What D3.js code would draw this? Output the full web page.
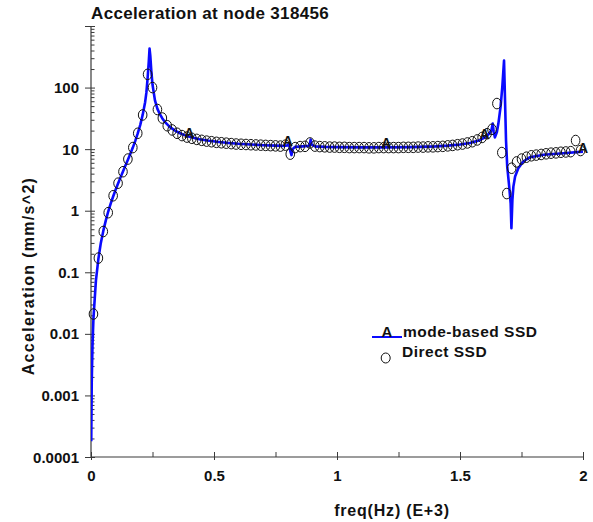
<!DOCTYPE html>
<html>
<head>
<meta charset="utf-8">
<script src="https://cdn.jsdelivr.net/npm/d3@7"></script>
<style>
  body { margin: 0; background: #fff; }
  text { font-family: "Liberation Sans", Arial, Helvetica, sans-serif; font-weight: bold; fill: #111; }
</style>
</head>
<body>
<svg id="chart" width="593" height="522"></svg>
<script>
// Frequency response at node 318456, frequency in kHz, acceleration in mm/s^2
const modeFreq = [0.001, 0.003, 0.006, 0.01, 0.02, 0.03, 0.04, 0.05, 0.06, 0.07, 0.08, 0.09, 0.10, 0.11, 0.12,
  0.13, 0.14, 0.15, 0.16, 0.17, 0.18, 0.19, 0.20, 0.21, 0.22, 0.225, 0.23, 0.235, 0.238, 0.241, 0.245,
  0.25, 0.26, 0.27, 0.28, 0.29, 0.30, 0.32, 0.34, 0.36, 0.38, 0.40, 0.44, 0.48, 0.52, 0.56, 0.60, 0.65,
  0.70, 0.75, 0.78, 0.80, 0.805, 0.81, 0.815, 0.82, 0.83, 0.86, 0.885, 0.89, 0.893, 0.897, 0.91, 0.95,
  1.00, 1.10, 1.20, 1.30, 1.40, 1.45, 1.50, 1.54, 1.58, 1.60, 1.62, 1.628, 1.633, 1.637, 1.642, 1.65,
  1.656, 1.665, 1.672, 1.676, 1.679, 1.683, 1.687, 1.692, 1.700, 1.706, 1.709, 1.713, 1.717, 1.724,
  1.737, 1.757, 1.785, 1.84, 1.92, 2.0];
const modeAcc = [0.00018, 0.0016, 0.0065, 0.018, 0.073, 0.165, 0.30, 0.47, 0.69, 0.97, 1.30, 1.70, 2.19, 2.77, 3.48,
  4.34, 5.40, 6.73, 8.45, 10.6, 13.6, 18.0, 24.6, 36, 58, 82, 140, 270, 430, 330, 190,
  112, 62, 45, 37, 31.5, 27.8, 23, 20.2, 18.3, 16.9, 15.9, 14.5, 13.7, 13.1, 12.6, 12.2, 11.9,
  11.6, 11.4, 11.3, 11.5, 12.4, 9.4, 8.0, 10.1, 10.9, 11.1, 11.3, 12.3, 14.3, 11.8, 11.1, 10.9,
  10.8, 10.7, 10.7, 10.8, 11.1, 11.4, 11.9, 12.6, 14.0, 15.4, 18.0, 20.5, 26, 19, 15.5, 19,
  26, 49, 103, 180, 274, 63, 14, 5.2, 2.46, 1.3, 0.52, 1.5, 2.46, 3.6,
  4.9, 6.3, 7.4, 8.1, 8.6, 9.1];

const directFreq = [0.01, 0.03, 0.05, 0.07, 0.09, 0.11, 0.13, 0.15, 0.17, 0.19,
  0.21, 0.23, 0.25, 0.27, 0.29, 0.31, 0.33, 0.35, 0.37, 0.39,
  0.41, 0.43, 0.45, 0.47, 0.49, 0.51, 0.53, 0.55, 0.57, 0.59,
  0.61, 0.63, 0.65, 0.67, 0.69, 0.71, 0.73, 0.75, 0.77, 0.79,
  0.81, 0.83, 0.85, 0.87, 0.89, 0.91, 0.93, 0.95, 0.97, 0.99,
  1.01, 1.03, 1.05, 1.07, 1.09, 1.11, 1.13, 1.15, 1.17, 1.19,
  1.21, 1.23, 1.25, 1.27, 1.29, 1.31, 1.33, 1.35, 1.37, 1.39,
  1.41, 1.43, 1.45, 1.47, 1.49, 1.51, 1.53, 1.55, 1.57, 1.59,
  1.61, 1.63, 1.65, 1.67, 1.69, 1.71, 1.73, 1.75, 1.77, 1.79,
  1.81, 1.83, 1.85, 1.87, 1.89, 1.91, 1.93, 1.95, 1.97, 1.99];
const directAcc = [0.021, 0.17, 0.46, 0.93, 1.75, 2.8, 4.3, 6.9, 10.6, 18.1,
  35.9, 164, 100, 44, 32, 24, 20.5, 18.1, 16.6, 15.7,
  15.0, 14.4, 13.9, 13.5, 13.2, 12.9, 12.7, 12.5, 12.3, 12.1,
  12.0, 11.9, 11.8, 11.7, 11.6, 11.5, 11.4, 11.3, 11.2, 11.6,
  8.3, 10.6, 11.0, 11.1, 12.6, 11.2, 11.0, 10.9, 10.8, 10.8,
  10.7, 10.7, 10.6, 10.6, 10.6, 10.6, 10.5, 10.5, 10.6, 10.6,
  10.6, 10.6, 10.6, 10.7, 10.7, 10.7, 10.8, 10.8, 10.9, 10.9,
  11.0, 11.1, 11.3, 11.5, 11.8, 12.1, 12.6, 13.2, 14.1, 15.5,
  17.8, 21, 55, 8.8, 1.9, 4.9, 6.2, 6.9, 7.4, 7.8,
  8.0, 8.2, 8.4, 8.6, 8.7, 8.9, 9.0, 9.1, 13.8, 9.5];

// "A" symbols placed along the mode-based curve
const markerFreq = [0.4, 0.8, 1.2, 1.6, 2.0];

const xMajorTicks = [0, 0.5, 1, 1.5, 2];
const xMinorTicks = [0.25, 0.75, 1.25, 1.75];
const xTickLabels = ["0", "0.5", "1", "1.5", "2"];
const yMajorTicks = [1e-4, 1e-3, 1e-2, 1e-1, 1, 10, 100, 1000];
const yTickLabels = ["0.0001", "0.001", "0.01", "0.1", "1", "10", "100", ""];

const titleText = "Acceleration at node 318456";
const xTitle = "freq(Hz) (E+3)";
const yTitle = "Acceleration (mm/s^2)";
const seriesNames = ["mode-based SSD", "Direct SSD"];

const svg = d3.select("#chart");
const plot = { left: 91, right: 583, top: 26, bottom: 457 };
const axisColor = "#3a3a3a";
const lineColor = "#0a0aff";

const x = d3.scaleLinear().domain([0, 2]).range([plot.left, plot.right]);
const y = d3.scaleLog().domain([1e-4, 1e3]).range([plot.bottom, plot.top]);

const yMinorTicks = [];
for (let e = -4; e < 3; e++) {
  for (let m = 2; m <= 9; m++) yMinorTicks.push(m * Math.pow(10, e));
}

svg.append("defs").append("clipPath").attr("id", "plotClip")
  .append("rect")
  .attr("x", plot.left).attr("y", plot.top - 2)
  .attr("width", plot.right - plot.left + 2).attr("height", plot.bottom - plot.top + 2);

function styleAxis(g) {
  g.select(".domain").remove();
  g.selectAll("line").attr("stroke", axisColor).attr("stroke-width", 1);
  g.selectAll("text").attr("font-size", null).attr("font-family", null);
}

// y axis: major ticks crossing the axis, minor ticks inside
svg.append("g").attr("transform", `translate(${plot.left},0)`)
  .call(d3.axisLeft(y).tickValues(yMajorTicks).tickSize(6).tickPadding(6)
    .tickFormat((d, i) => yTickLabels[i]))
  .call(styleAxis)
  .call(g => g.selectAll("text").style("font-size", "15px").attr("dy", "0.34em"));
svg.append("g").attr("transform", `translate(${plot.left},0)`)
  .call(d3.axisRight(y).tickValues(yMajorTicks).tickSize(4).tickFormat(""))
  .call(styleAxis);
svg.append("g").attr("transform", `translate(${plot.left},0)`)
  .call(d3.axisRight(y).tickValues(yMinorTicks).tickSize(3.5).tickFormat(""))
  .call(styleAxis);

// x axis
svg.append("g").attr("transform", `translate(0,${plot.bottom})`)
  .call(d3.axisBottom(x).tickValues(xMajorTicks).tickSize(3).tickPadding(10)
    .tickFormat((d, i) => xTickLabels[i]))
  .call(styleAxis)
  .call(g => g.selectAll("text").style("font-size", "15px"));
svg.append("g").attr("transform", `translate(0,${plot.bottom})`)
  .call(d3.axisTop(x).tickValues(xMajorTicks.concat(xMinorTicks)).tickSize(5).tickFormat(""))
  .call(styleAxis);

// axis lines
svg.append("line").attr("x1", plot.left).attr("x2", plot.left)
  .attr("y1", plot.top).attr("y2", plot.bottom)
  .attr("stroke", axisColor).attr("stroke-width", 1.2);
svg.append("line").attr("x1", plot.left).attr("x2", plot.right)
  .attr("y1", plot.bottom).attr("y2", plot.bottom)
  .attr("stroke", axisColor).attr("stroke-width", 1.2);

// titles
svg.append("text").attr("x", plot.left).attr("y", 19)
  .style("font-size", "17px").style("letter-spacing", "0.35px")
  .text(titleText);
svg.append("text").attr("x", 392).attr("y", 516).attr("text-anchor", "middle")
  .style("font-size", "16px").style("letter-spacing", "0.8px")
  .text(xTitle);
svg.append("text").attr("transform", "translate(34,276) rotate(-90)").attr("text-anchor", "middle")
  .style("font-size", "16px").style("letter-spacing", "1.3px")
  .text(yTitle);

const plotG = svg.append("g").attr("clip-path", "url(#plotClip)");

// mode-based curve
const modeData = modeFreq.map((f, i) => ({ f, v: modeAcc[i] }));
plotG.append("path").datum(modeData)
  .attr("fill", "none").attr("stroke", lineColor).attr("stroke-width", 2.6)
  .attr("stroke-linejoin", "round")
  .attr("d", d3.line().x(d => x(d.f)).y(d => y(d.v)));

// direct-solution points
const directData = directFreq.map((f, i) => ({ f, v: directAcc[i] }));
svg.append("g").selectAll("ellipse").data(directData).join("ellipse")
  .attr("cx", d => x(d.f)).attr("cy", d => y(d.v))
  .attr("rx", 4.3).attr("ry", 5.3)
  .attr("fill", "none").attr("stroke", "#111").attr("stroke-width", 1);

// "A" symbols on the curve
const markerData = markerFreq.map(f => modeData.find(d => Math.abs(d.f - f) < 1e-9));
svg.append("g").selectAll("text").data(markerData).join("text")
  .attr("x", d => x(d.f)).attr("y", d => y(d.v) + 1)
  .attr("text-anchor", "middle").style("font-size", "14px")
  .text("A");

// legend
const legend = svg.append("g");
legend.append("line").attr("x1", 372).attr("x2", 402).attr("y1", 337).attr("y2", 337)
  .attr("stroke", lineColor).attr("stroke-width", 2);
legend.append("text").attr("x", 387).attr("y", 337).attr("text-anchor", "middle")
  .style("font-size", "15px").text("A");
legend.append("text").attr("x", 403).attr("y", 337)
  .style("font-size", "15.5px").style("letter-spacing", "0.5px").text(seriesNames[0]);
legend.append("ellipse").attr("cx", 385.7).attr("cy", 358).attr("rx", 4.5).attr("ry", 5)
  .attr("fill", "none").attr("stroke", "#111").attr("stroke-width", 1);
legend.append("text").attr("x", 402).attr("y", 357)
  .style("font-size", "15.5px").style("letter-spacing", "0.5px").text(seriesNames[1]);
</script>
</body>
</html>
